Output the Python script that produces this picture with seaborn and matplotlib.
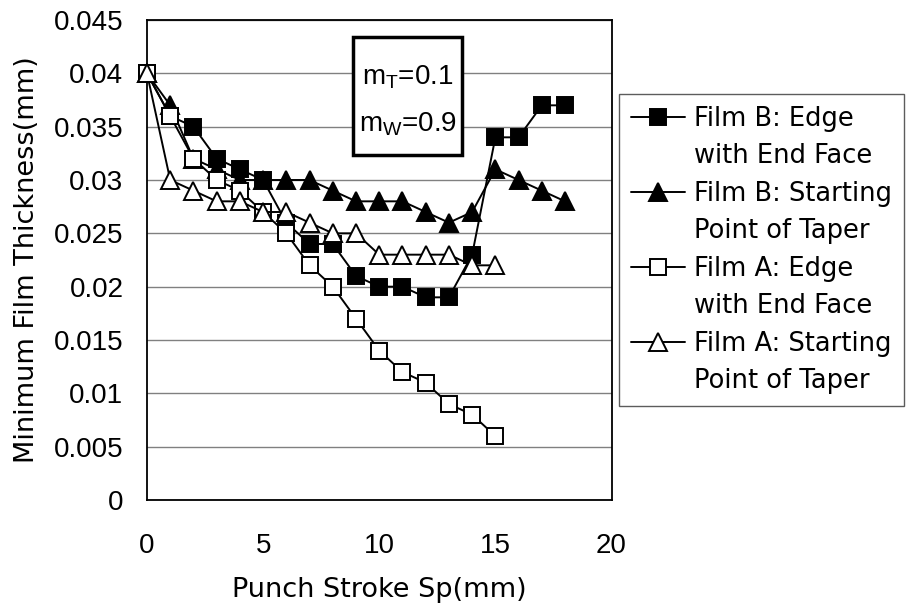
import matplotlib
matplotlib.use("Agg")
import matplotlib.pyplot as plt
import seaborn as sns
import pandas as pd
from matplotlib.patches import Rectangle
from matplotlib.lines import Line2D

# ---- data ----
stroke_b = [0, 1, 2, 3, 4, 5, 6, 7, 8, 9, 10, 11, 12, 13, 14, 15, 16, 17, 18]
b_edge = [0.040, 0.036, 0.035, 0.032, 0.031, 0.030, 0.026, 0.024, 0.024, 0.021,
          0.020, 0.020, 0.019, 0.019, 0.023, 0.034, 0.034, 0.037, 0.037]
b_taper = [0.040, 0.037, 0.032, 0.031, 0.030, 0.030, 0.030, 0.030, 0.029, 0.028,
           0.028, 0.028, 0.027, 0.026, 0.027, 0.031, 0.030, 0.029, 0.028]
stroke_a = [0, 1, 2, 3, 4, 5, 6, 7, 8, 9, 10, 11, 12, 13, 14, 15]
a_edge = [0.040, 0.036, 0.032, 0.030, 0.029, 0.027, 0.025, 0.022, 0.020, 0.017,
          0.014, 0.012, 0.011, 0.009, 0.008, 0.006]
a_taper = [0.040, 0.030, 0.029, 0.028, 0.028, 0.027, 0.027, 0.026, 0.025, 0.025,
           0.023, 0.023, 0.023, 0.023, 0.022, 0.022]
labels = [("Film B: Edge", "with End Face"), ("Film B: Starting", "Point of Taper"),
          ("Film A: Edge", "with End Face"), ("Film A: Starting", "Point of Taper")]
x_ticks = [0, 5, 10, 15, 20]
y_ticks = [0, 0.005, 0.01, 0.015, 0.02, 0.025, 0.03, 0.035, 0.04, 0.045]
y_ticklabels = ["0", "0.005", "0.01", "0.015", "0.02", "0.025", "0.03", "0.035", "0.04", "0.045"]

sns.set_theme(style="white")
plt.rcParams["mathtext.fontset"] = "custom"
plt.rcParams["mathtext.rm"] = "Liberation Sans"
plt.rcParams["mathtext.it"] = "Liberation Sans"
plt.rcParams["text.color"] = "black"
plt.rcParams["axes.labelcolor"] = "black"
plt.rcParams["xtick.color"] = "black"
plt.rcParams["ytick.color"] = "black"

dj = ["DejaVu Sans"]
ar = ["Liberation Sans", "DejaVu Sans"]

W, H = 906, 608
fig = plt.figure(figsize=(W / 100, H / 100), dpi=100)
ax = fig.add_axes([147 / W, 1 - 500 / H, (611.5 - 147) / W, (500 - 20) / H])

series = [
    (stroke_b, b_edge, "s", "black"),
    (stroke_b, b_taper, "^", "black"),
    (stroke_a, a_edge, "s", "white"),
    (stroke_a, a_taper, "^", "white"),
]
for (xs, ys, mk, fc), lab in zip(series, labels):
    df = pd.DataFrame({"x": xs, "y": ys})
    sns.lineplot(data=df, x="x", y="y", ax=ax, color="black", lw=1.4,
                 marker=mk, markersize=11.5 if mk == "s" else 12.5,
                 markerfacecolor=fc, markeredgecolor="black", markeredgewidth=1.4,
                 label=lab[0], zorder=3, clip_on=False)

ax.set_xlim(0, 20)
ax.set_ylim(0, 0.045)
ax.set_xticks(x_ticks)
ax.set_xticklabels([str(v) for v in x_ticks], family=ar, fontsize=20, color="black")
ax.set_yticks(y_ticks)
ax.set_yticklabels(y_ticklabels, family=ar, fontsize=20, color="black")
ax.tick_params(axis="x", direction="in", length=6, width=1, color="black", pad=24)
ax.tick_params(axis="y", direction="in", length=0, width=1, color="black", pad=17)
ax.grid(axis="y", color="#808080", lw=1)
ax.grid(axis="x", visible=False)
for s in ax.spines.values():
    s.set_color("black")
    s.set_linewidth(1.3)
ax.set_xlabel("Punch Stroke Sp(mm)", family=dj, fontsize=19.5, labelpad=13, color="black")
ax.set_ylabel("Minimum Film Thickness(mm)", family=dj, fontsize=19.5, labelpad=10, color="black")

handles, _ = ax.get_legend_handles_labels()
blank = Line2D([], [], linestyle="none", marker=None)
leg_h, leg_l = [], []
for h, (l1, l2) in zip(handles, labels):
    leg_h += [h, blank]
    leg_l += [l1, l2]
leg = ax.legend(leg_h, leg_l, loc="upper left", bbox_to_anchor=(619 / W, 1 - 94 / H),
                bbox_transform=fig.transFigure, frameon=True, fancybox=False,
                prop={"family": dj, "size": 18.5}, handlelength=2.1,
                handletextpad=0.38, borderpad=0.45, labelspacing=0.45,
                borderaxespad=0, labelcolor="black")
leg.get_frame().set_edgecolor("#333333")
leg.get_frame().set_linewidth(1)

# annotation box
fig.patches.append(Rectangle((353 / W, 1 - 155 / H), 109 / W, 118 / H,
                             transform=fig.transFigure, fill=True, facecolor="white",
                             edgecolor="black", lw=2.5, zorder=5))
fig.text(408 / W, 1 - 77 / H, r"m$_\mathrm{T}$=0.1", family=ar, fontsize=20,
         ha="center", va="center", zorder=6, color="black")
fig.text(408 / W, 1 - 124 / H, r"m$_\mathrm{W}$=0.9", family=ar, fontsize=20,
         ha="center", va="center", zorder=6, color="black")

fig.savefig("out.png", dpi=100)
